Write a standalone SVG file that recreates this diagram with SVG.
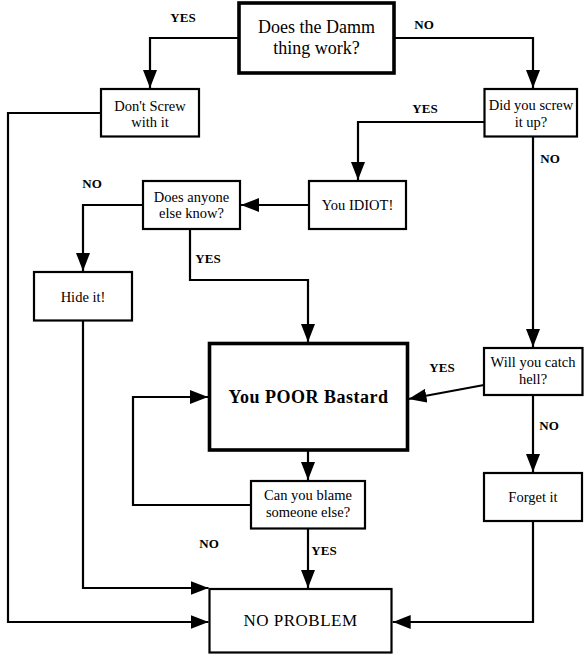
<svg xmlns="http://www.w3.org/2000/svg" width="587" height="654" viewBox="0 0 587 654">
<style>
.bg{fill:#ffffff}
.box{fill:#ffffff;stroke:#000;stroke-width:2.2}
.thick{fill:#ffffff;stroke:#000;stroke-width:3.6}
text{font-family:'Liberation Serif','DejaVu Serif',serif;fill:#000;text-anchor:middle}
.t{font-size:14.5px}
.big{font-size:18px}
.poor{font-size:18px;font-weight:bold;letter-spacing:0.5px}
.np{font-size:17px;letter-spacing:0.5px}
.lbl{font-size:13px;font-weight:bold}
.c{fill:none;stroke:#000;stroke-width:2.2;marker-end:url(#ah)}
</style>
<defs>
<marker id="ah" markerUnits="userSpaceOnUse" markerWidth="18" markerHeight="14" refX="18" refY="7" orient="auto">
<path d="M0,0 L18,7 L0,14 z" fill="#000"/>
</marker>
</defs>
<rect class="bg" x="0" y="0" width="587" height="654"/>
<g id="connectors">
<path class="c" d="M239,38 H150 V88"/>
<path class="c" d="M394,38 H533 V88"/>
<path class="c" d="M101,113 H8 V622 H208.5"/>
<path class="c" d="M484.5,122 H358 V180"/>
<path class="c" d="M309,205 H241"/>
<path class="c" d="M143,205 H83 V271"/>
<path class="c" d="M190,229 V280 H308 V342"/>
<path class="c" d="M83,320.7 V588 H208.5"/>
<path class="c" d="M533,136.5 V347"/>
<path class="c" d="M484,385 L408.5,399"/>
<path class="c" d="M533,395 V472"/>
<path class="c" d="M308,450 V480"/>
<path class="c" d="M251,505 H133 V397 H208"/>
<path class="c" d="M308,528.5 V588"/>
<path class="c" d="M533,521 V622 H392.7"/>
</g>
<g id="labels" font-family="Liberation Serif, serif">
<text class="lbl" x="183" y="22">YES</text>
<text class="lbl" x="424" y="29">NO</text>
<text class="lbl" x="425" y="113">YES</text>
<text class="lbl" x="550" y="163">NO</text>
<text class="lbl" x="92" y="188">NO</text>
<text class="lbl" x="208" y="263">YES</text>
<text class="lbl" x="442" y="372">YES</text>
<text class="lbl" x="549" y="430">NO</text>
<text class="lbl" x="209" y="548">NO</text>
<text class="lbl" x="324" y="555">YES</text>
</g>
<g id="n-start">
<rect class="thick" x="239" y="3" width="155" height="70"/>
<text class="big" x="316.5" y="33">Does the Damm</text>
<text class="big" x="316.5" y="54">thing work?</text>
</g>
<g id="n-dontscrew">
<rect class="box" x="101" y="89" width="98" height="47.5"/>
<text class="t" x="150" y="111">Don't Screw</text>
<text class="t" x="150" y="127">with it</text>
</g>
<g id="n-didyou">
<rect class="box" x="484.5" y="89" width="92.5" height="47.5"/>
<text class="t" x="531" y="110">Did you screw</text>
<text class="t" x="531" y="127">it up?</text>
</g>
<g id="n-idiot">
<rect class="box" x="309" y="181" width="97" height="48"/>
<text class="t" x="357.5" y="210">You IDIOT!</text>
</g>
<g id="n-anyone">
<rect class="box" x="143" y="181" width="97" height="48"/>
<text class="t" x="191.5" y="202">Does anyone</text>
<text class="t" x="191.5" y="218">else know?</text>
</g>
<g id="n-hide">
<rect class="box" x="34" y="272" width="98" height="48.5"/>
<text class="t" x="83" y="302">Hide it!</text>
</g>
<g id="n-poor">
<rect class="thick" x="209.5" y="343.5" width="198" height="106.5"/>
<text class="poor" x="308.5" y="403">You POOR Bastard</text>
</g>
<g id="n-catch">
<rect class="box" x="484" y="348" width="98.5" height="47"/>
<text class="t" x="533" y="367">Will you catch</text>
<text class="t" x="533" y="384">hell?</text>
</g>
<g id="n-forget">
<rect class="box" x="484" y="473" width="98" height="48"/>
<text class="t" x="533" y="502">Forget it</text>
</g>
<g id="n-blame">
<rect class="box" x="251" y="481" width="114" height="47.5"/>
<text class="t" x="308" y="500">Can you blame</text>
<text class="t" x="308" y="517">someone else?</text>
</g>
<g id="n-noproblem">
<rect class="box" x="209.5" y="589" width="182" height="63.5"/>
<text class="np" x="300.5" y="626">NO PROBLEM</text>
</g>
</svg>
